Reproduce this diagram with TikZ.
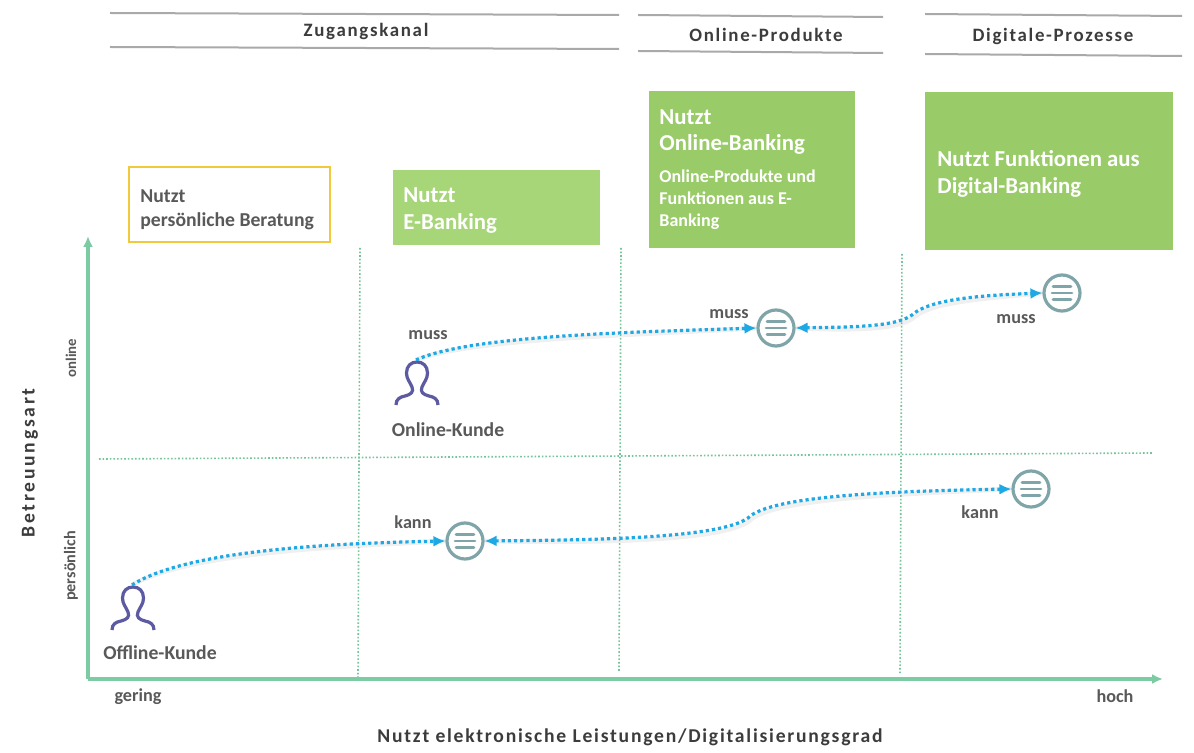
\documentclass[tikz,border=0pt]{standalone}
\usepackage{fontspec}
\setmainfont{Carlito}
\newfontfamily\spaced[LetterSpace=9]{Carlito}
\newfontfamily\spacedwide[LetterSpace=14]{Carlito}
\usetikzlibrary{arrows.meta,calc}
\definecolor{axisgreen}{HTML}{7CCBA2}
\definecolor{gridgreen}{HTML}{74C69A}
\definecolor{flowblue}{HTML}{1EA8E4}
\definecolor{personblue}{HTML}{5C5AA0}
\definecolor{menugrey}{HTML}{7FA5A8}
\definecolor{boxgreen}{HTML}{9ACB69}
\definecolor{boxlight}{HTML}{A7D679}
\definecolor{boxyellow}{HTML}{F0C93C}
\definecolor{txt}{HTML}{595959}
\definecolor{txtdark}{HTML}{3C3C3C}
\definecolor{rulegrey}{HTML}{A9A9A9}
\tikzset{
  x=0.5pt,y=-0.5pt,
  rulepath/.style={draw=rulegrey,line width=1pt},
  headtext/.style={font=\spaced\bfseries\fontsize{9.45}{10}\selectfont,text=txtdark,inner sep=0pt},
  axispath/.style={draw=axisgreen,line width=1.7pt,-{Latex[length=5.5pt,width=5pt]}},
  gridpath/.style={draw=gridgreen,line width=0.8pt,dash pattern=on 0.8pt off 1pt},
  flowpath/.style={draw=flowblue,line width=1.6pt,dash pattern=on 1.6pt off 1.5pt},
  flowshadow/.style={draw=black,opacity=.06,line width=2.4pt,shift={(1,3)}},
  tipend/.style={-{Latex[length=6pt,width=5.5pt]}},
  tipboth/.style={{Latex[length=6pt,width=5.5pt]}-{Latex[length=6pt,width=5.5pt]}},
  box/.style={fill=boxgreen,inner sep=0pt,anchor=north west},
  whitetxt/.style={text=white,font=\bfseries\fontsize{11.4}{13.5}\selectfont,align=left,inner sep=0pt},
  smalltxt/.style={text=txt,font=\bfseries\fontsize{9.1}{10}\selectfont,inner sep=0pt},
  nametxt/.style={text=txt,font=\bfseries\fontsize{9.85}{11}\selectfont,inner sep=0pt},
  pics/person/.style={code={
    \draw[personblue,line width=1.6pt]
      (-21,43) .. controls (-21,37) and (-17,35) .. (-12,34)
      .. controls (-6,32.5) and (-3,30) .. (-5,25)
      .. controls (-7,20) and (-10.5,17) .. (-10.5,11)
      .. controls (-10.5,4) and (-6,0) .. (0,0)
      .. controls (6,0) and (10.5,4) .. (10.5,11)
      .. controls (10.5,17) and (7,20) .. (5,25)
      .. controls (3,30) and (6,32.5) .. (12,34)
      .. controls (17,35) and (21,37) .. (21,43);
    \coordinate (-head) at (-1,-2);
  }},
  pics/menu/.style={code={
    \node[circle,draw=menugrey,line width=1.6pt,minimum size=18pt,inner sep=0pt,fill=white] (-c) at (0,0) {};
    \draw[menugrey,line width=1.35pt,line cap=round] (-9,-6.5) -- (9,-6.5) (-10,0) -- (10,0) (-9,6.5) -- (9,6.5);
  }},
}
\begin{document}
\begin{tikzpicture}
\useasboundingbox[fill=white] (0,0) rectangle (1194,753);

% header rules
\draw[rulepath] (110,13) -- (619,15) (110,47) -- (619,49);
\draw[rulepath] (638,15) -- (883,17) (638,51) -- (883,53);
\draw[rulepath] (925,14) -- (1182,16) (925,54) -- (1182,56);
\node[headtext] (h1) at (366,31.5) {Zugangskanal};
\node[headtext] (h2) at (766,35) {Online-Produkte};
\node[headtext] (h3) at (1053,36) {Digitale-Prozesse};

% boxes
\node[draw=boxyellow,line width=1pt,fill=white,minimum width=100.5pt,minimum height=37.5pt,inner sep=0pt,anchor=north west] (b1) at (128,166.5) {};
\node[anchor=west,inner sep=0pt,text=txt,font=\bfseries\fontsize{9.85}{12}\selectfont,align=left] (b1t) at (140,210) {Nutzt\\persönliche Beratung};
\node[box,fill=boxlight,minimum width=103.5pt,minimum height=37.5pt] (b2) at (393,170) {};
\node[whitetxt,anchor=west] (b2t) at (403,211) {Nutzt\\E-Banking};
\node[box,minimum width=103pt,minimum height=78.5pt] (b3) at (649,91) {};
\node[whitetxt,anchor=north west,font=\bfseries\fontsize{11.4}{13.2}\selectfont] (b3t) at (659,109) {Nutzt\\Online-Banking};
\node[anchor=north west,inner sep=0pt,text=white,font=\bfseries\fontsize{9}{11}\selectfont,align=left] (b3s) at (659,169) {Online-Produkte und\\Funktionen aus E-\\Banking};
\node[box,minimum width=124pt,minimum height=79pt] (b4) at (925,92) {};
\node[whitetxt,anchor=west] (b4t) at (937,173.5) {Nutzt Funktionen aus\\Digital-Banking};

% grid
\draw[gridpath] (360,248) -- (358,677);
\draw[gridpath] (621,248) -- (619,671);
\draw[gridpath] (902,254) -- (900,674);
\draw[gridpath] (99,459) -- (1152,453);

% axes
\coordinate (o) at (88,679);
\coordinate (ytop) at (88,236);
\coordinate (xend) at (1163,679);
\draw[axispath] (o) -- (ytop);
\draw[axispath] (o) -- (xend);

% icons
\pic (p1) at (133,587) {person};
\pic (p2) at (417,362) {person};
\pic (m1) at (465,541) {menu};
\pic (m2) at (776,328) {menu};
\pic (m3) at (1062,293) {menu};
\pic (m4) at (1031,489) {menu};

% flow shadows
\draw[flowshadow] (p1-head) .. controls (190,548) and (350,543) .. (m1-c.west);
\draw[flowshadow] (p2-head) .. controls (470,335) and (640,332) .. (m2-c.west);
\draw[flowshadow] (m1-c.east) .. controls (600,540) and (720,538) .. (748,518) .. controls (770,495) and (900,491) .. (m4-c.west);
\draw[flowshadow] (m2-c.east) .. controls (840,327) and (895,328) .. (912,315) .. controls (930,298) and (990,295) .. (m3-c.west);

% flows
\draw[flowpath,tipend] (p1-head) .. controls (190,548) and (350,543) .. (m1-c.west);
\draw[flowpath,tipend] (p2-head) .. controls (470,335) and (640,332) .. (m2-c.west);
\draw[flowpath,tipboth] (m1-c.east) .. controls (600,540) and (720,538) .. (748,518) .. controls (770,495) and (900,491) .. (m4-c.west);
\draw[flowpath,tipboth] (m2-c.east) .. controls (840,327) and (895,328) .. (912,315) .. controls (930,298) and (990,295) .. (m3-c.west);

% labels
\node[smalltxt] (l1) at (428,335) {muss};
\node[smalltxt] (l2) at (729,314) {muss};
\node[smalltxt] (l3) at (1016,319) {muss};
\node[smalltxt] (l4) at (413,522) {kann};
\node[smalltxt] (l5) at (980,512) {kann};
\node[nametxt] (n1) at (448,430) {Online-Kunde};
\node[nametxt] (n2) at (160,653) {Offline-Kunde};
\node[smalltxt] (g) at (138,697) {gering};
\node[smalltxt] (ho) at (1115,696) {hoch};
\node[smalltxt,rotate=90,font=\bfseries\fontsize{7.4}{8}\selectfont] (on) at (71,358) {online};
\node[smalltxt,rotate=90,font=\bfseries\fontsize{8.1}{9}\selectfont] (pe) at (71,566) {persönlich};
\node[headtext,rotate=90,font=\spacedwide\bfseries\fontsize{9.8}{10}\selectfont] (ay) at (30,463) {Betreuungsart};
\node[headtext,font=\spaced\bfseries\fontsize{9.8}{10}\selectfont] (ax) at (630,737) {Nutzt elektronische Leistungen/Digitalisierungsgrad};
\end{tikzpicture}
\end{document}
